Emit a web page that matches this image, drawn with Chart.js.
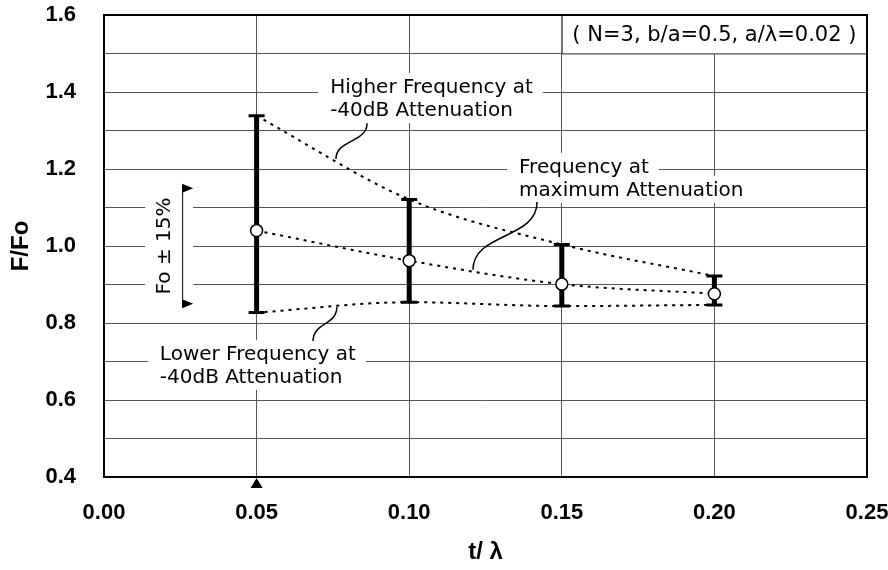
<!DOCTYPE html>
<html>
<head>
<meta charset="utf-8">
<script src="https://cdn.jsdelivr.net/npm/chart.js@4.4.1/dist/chart.umd.min.js"></script>
<style>
  html, body { margin: 0; padding: 0; background: #fff; }
  #wrap { width: 888px; height: 570px; }
</style>
</head>
<body>
<div id="wrap"><canvas id="chart"></canvas></div>
<script>
// values
const tLambda = [0.05, 0.10, 0.15, 0.20];
const fCenter = [1.040, 0.962, 0.901, 0.876];
const fHigh = [1.338, 1.121, 1.004, 0.922];
const fLow = [0.827, 0.854, 0.844, 0.847];
const xTicks = [0, 0.05, 0.10, 0.15, 0.20, 0.25];
const yGrid = [0.4, 0.5, 0.6, 0.7, 0.8, 0.9, 1.0, 1.1, 1.2, 1.3, 1.4, 1.5, 1.6];
const yLabeled = [0.4, 0.6, 0.8, 1.0, 1.2, 1.4, 1.6];
const foBand = [0.85, 1.15];
const paramText = '( N=3, b/a=0.5, a/λ=0.02 )';

// annotation text (left edge / first baseline in data units)
const notes = [
  { lines: ['Higher Frequency at', '-40dB Attenuation'], x: 0.0741, y: 1.397 },
  { lines: ['Frequency at', 'maximum Attenuation'], x: 0.136, y: 1.190 },
  { lines: ['Lower Frequency at', '-40dB Attenuation'], x: 0.0183, y: 0.704 }
];
const leaders = [
  [[0.0862, 1.319], [0.0760, 1.226]],
  [[0.1419, 1.114], [0.1209, 0.938]],
  [[0.0763, 0.842], [0.0685, 0.753]]
];

const noteFont = '20px "DejaVu Sans"';
const tickFont = { family: 'Liberation Sans', size: 22, weight: 'bold' };
const titleFont = { family: 'Liberation Sans', size: 24, weight: 'bold' };

const decorations = {
  id: 'decorations',
  beforeDatasetsDraw(chart) {
    const { ctx, scales: { x, y } } = chart;
    ctx.save();

    // parameter box in the top-right cell
    const bx0 = x.getPixelForValue(0.15), bx1 = x.getPixelForValue(0.25);
    const by0 = y.getPixelForValue(1.6), by1 = y.getPixelForValue(1.5);
    ctx.fillStyle = '#fff';
    ctx.fillRect(bx0, by0, bx1 - bx0, by1 - by0);
    ctx.strokeStyle = '#555';
    ctx.lineWidth = 1;
    ctx.strokeRect(bx0 + 0.5, by0, bx1 - bx0, by1 - by0 + 0.5);
    ctx.font = '21px "DejaVu Sans"';
    ctx.fillStyle = '#000';
    ctx.textAlign = 'center';
    ctx.textBaseline = 'middle';
    ctx.fillText(paramText, x.getPixelForValue(0.20), y.getPixelForValue(1.55) + 1);

    // notes with white backing
    ctx.font = noteFont;
    ctx.textAlign = 'left';
    ctx.textBaseline = 'alphabetic';
    notes.forEach(n => {
      const px = x.getPixelForValue(n.x);
      const py = y.getPixelForValue(n.y);
      n.lines.forEach((line, i) => {
        const w = ctx.measureText(line).width;
        const base = py + i * 23;
        ctx.fillStyle = '#fff';
        ctx.fillRect(px - 12, base - 20, w + 22, 27);
      });
      ctx.fillStyle = '#000';
      n.lines.forEach((line, i) => ctx.fillText(line, px, py + i * 23));
    });

    // leader lines
    ctx.strokeStyle = '#000';
    ctx.lineWidth = 1.5;
    leaders.forEach(([a, b]) => {
      const x0 = x.getPixelForValue(a[0]), y0 = y.getPixelForValue(a[1]);
      const x1 = x.getPixelForValue(b[0]), y1 = y.getPixelForValue(b[1]);
      const dy = y1 - y0;
      ctx.beginPath();
      ctx.moveTo(x0, y0);
      ctx.bezierCurveTo(x0, y0 + dy * 0.55, x1, y1 - dy * 0.55, x1, y1);
      ctx.stroke();
    });

    // Fo +-15% marker
    const fx = x.getPixelForValue(0.0256);
    const fTop = y.getPixelForValue(foBand[1]);
    const fBot = y.getPixelForValue(foBand[0]);
    ctx.fillStyle = '#fff';
    ctx.fillRect(fx - 37, fTop + 4, 48, fBot - fTop - 8);
    ctx.lineWidth = 1;
    ctx.beginPath();
    ctx.moveTo(fx + 0.5, fTop - 3);
    ctx.lineTo(fx + 0.5, fBot + 3);
    ctx.stroke();
    ctx.fillStyle = '#000';
    [fTop, fBot].forEach(p => {
      ctx.beginPath();
      ctx.moveTo(fx, p - 4.5);
      ctx.lineTo(fx + 11, p);
      ctx.lineTo(fx, p + 4.5);
      ctx.closePath();
      ctx.fill();
    });
    ctx.save();
    ctx.translate(fx - 17, (fTop + fBot) / 2);
    ctx.rotate(-Math.PI / 2);
    ctx.font = noteFont;
    ctx.textAlign = 'center';
    ctx.textBaseline = 'middle';
    ctx.fillText('Fo ± 15%', 0, 0);
    ctx.restore();

    // error bars
    ctx.strokeStyle = '#000';
    tLambda.forEach((t, i) => {
      const cx = x.getPixelForValue(t);
      const yh = y.getPixelForValue(fHigh[i]);
      const yl = y.getPixelForValue(fLow[i]);
      ctx.lineWidth = 5;
      ctx.beginPath();
      ctx.moveTo(cx, yh);
      ctx.lineTo(cx, yl);
      ctx.stroke();
      ctx.lineWidth = 3;
      ctx.beginPath();
      ctx.moveTo(cx - 8, yh);
      ctx.lineTo(cx + 8, yh);
      ctx.moveTo(cx - 8, yl);
      ctx.lineTo(cx + 8, yl);
      ctx.stroke();
    });
    ctx.restore();
  },
  afterDraw(chart) {
    const { ctx, chartArea: a, scales: { x } } = chart;
    ctx.save();
    ctx.strokeStyle = '#000';
    ctx.lineWidth = 2;
    ctx.strokeRect(a.left, a.top, a.right - a.left, a.bottom - a.top);
    // marker under 0.05
    const mx = x.getPixelForValue(tLambda[0]);
    ctx.fillStyle = '#000';
    ctx.beginPath();
    ctx.moveTo(mx, a.bottom + 1);
    ctx.lineTo(mx + 6, a.bottom + 11);
    ctx.lineTo(mx - 6, a.bottom + 11);
    ctx.closePath();
    ctx.fill();
    ctx.restore();
  }
};

const dotted = { order: 1, borderColor: '#000', borderWidth: 2, borderDash: [3, 5], pointRadius: 0, fill: false, cubicInterpolationMode: 'monotone' };
const pts = arr => tLambda.map((t, i) => ({ x: t, y: arr[i] }));

new Chart(document.getElementById('chart'), {
  type: 'line',
  data: {
    datasets: [
      { ...dotted, data: pts(fHigh) },
      { ...dotted, data: pts(fCenter) },
      { ...dotted, data: pts(fLow) },
      {
        order: 0,
        data: pts(fCenter),
        showLine: false,
        pointRadius: 6,
        pointBackgroundColor: '#fff',
        pointBorderColor: '#000',
        pointBorderWidth: 1.5
      }
    ]
  },
  options: {
    responsive: true,
    maintainAspectRatio: false,
    animation: false,
    layout: { padding: { top: 15, right: 21, left: 0, bottom: 0 } },
    plugins: { legend: { display: false }, tooltip: { enabled: false } },
    scales: {
      x: {
        type: 'linear',
        min: 0,
        max: 0.25,
        afterBuildTicks: s => { s.ticks = xTicks.map(v => ({ value: v })); },
        afterFit: s => { s.height = 93; s.paddingLeft = 0; s.paddingRight = 0; },
        grid: { color: '#555', lineWidth: 1, drawTicks: false },
        border: { display: false },
        ticks: { color: '#000', font: tickFont, padding: 23, maxRotation: 0, callback: v => v.toFixed(2) },
        title: { display: true, text: 't/ λ', color: '#000', font: titleFont, padding: { top: 0, bottom: 3 } }
      },
      y: {
        min: 0.4,
        max: 1.6,
        afterBuildTicks: s => { s.ticks = yGrid.map(v => ({ value: v })); },
        afterFit: s => { s.width = 104; s.paddingTop = 0; s.paddingBottom = 0; },
        grid: { color: '#555', lineWidth: 1, drawTicks: false },
        border: { display: false },
        ticks: { color: '#000', font: tickFont, padding: 28, callback: v => yLabeled.includes(v) ? v.toFixed(1) : '' },
        title: { display: true, text: 'F/Fo', color: '#000', font: titleFont, padding: { top: 7, bottom: 0 } }
      }
    }
  },
  plugins: [decorations]
});
</script>
</body>
</html>
